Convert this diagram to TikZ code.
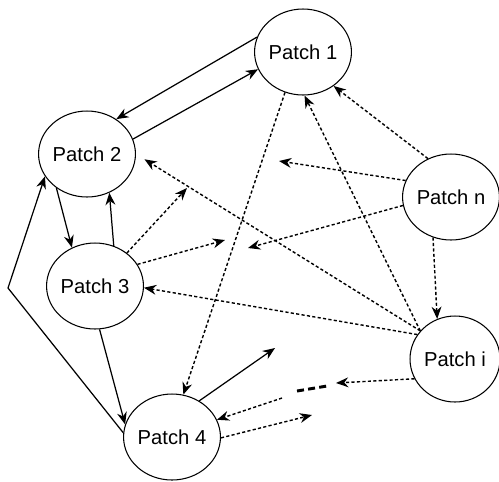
\documentclass[tikz,border=0pt]{standalone}
\usepackage{fontspec}
\setmainfont{Liberation Sans}
\usetikzlibrary{arrows.meta,shapes.geometric}

\tikzset{
  patch/.style={draw,ellipse,line width=0.6pt,inner sep=0pt,minimum width=1.88cm,minimum height=1.72cm,font=\fontsize{11.5}{13}\selectfont},
  link/.style={line width=0.7pt,-{Stealth[length=7pt,width=5.6pt]}},
  weak/.style={link,line width=0.8pt,dash pattern=on 1.8pt off 1.3pt},
  faint/.style={line width=1.7pt,dash pattern=on 4pt off 2.4pt}
}

\begin{document}
\begin{tikzpicture}[x=0.02cm,y=-0.02cm]
\useasboundingbox (0,0) rectangle (499,481);
% patches
\node[patch] (p1) at (303,52) {Patch 1};
\node[patch] (p2) at (87,154) {Patch 2};
\node[patch] (p3) at (95,286) {Patch 3};
\node[patch] (p4) at (172,437) {Patch 4};
\node[patch] (pn) at (451,197) {Patch n};
\node[patch,minimum width=1.8cm] (pi) at (455,359) {Patch i};
% loose ends
\coordinate (bend) at (8,288);
\coordinate (o4) at (275,348);
\coordinate (on1) at (279,161);
\coordinate (on2) at (248,248);
\coordinate (o31) at (187,188);
\coordinate (o32) at (225,240);
\coordinate (oi) at (336,383);
\coordinate (gap1) at (297,391);
\coordinate (gap2) at (327,386);
\coordinate (in4) at (282,398);
\coordinate (o41) at (312,415);
% solid links
\draw[link] (p1.162) -- (p2.50);
\draw[link] (p2.18) -- (p1.201);
\draw[link] (p2.228) -- (p3.121);
\draw[link] (p3.65) -- (p2.300);
\draw[link] (p4.175) -- (bend) -- (p2.208);
\draw[link] (p3.276) -- (p4.165);
\draw[link] (p4.53) -- (o4);
% dashed links
\draw[weak] (p1.246) -- (p4.75);
\draw[weak] (pi.141) -- (p1.272);
\draw[weak,shorten >=0.2cm] (pi.141) -- (p2.0);
\draw[weak] (pi.147) -- (p3.358);
\draw[weak] (pn.121) -- (p1.312);
\draw[weak] (pn.160) -- (on1);
\draw[weak] (pn.190) -- (on2);
\draw[weak] (pn.246) -- (pi.114);
\draw[weak] (p3.46) -- (o31);
\draw[weak] (p3.27) -- (o32);
\draw[weak] (pi.206) -- (oi);
\draw[faint] (gap1) -- (gap2);
\draw[weak] (in4) -- (p4.21);
\draw[weak] (p4.359) -- (o41);
\end{tikzpicture}
\end{document}
